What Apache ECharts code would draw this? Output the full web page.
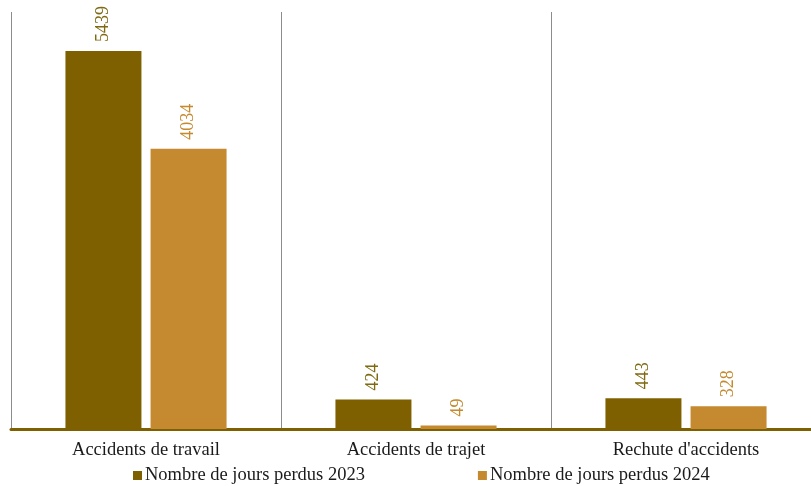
<!DOCTYPE html>
<html><head><meta charset="utf-8">
<script src="https://cdn.jsdelivr.net/npm/echarts@6/dist/echarts.min.js"></script>
<style>html,body{margin:0;padding:0;background:#fff;overflow:hidden;width:811px;height:486px}#c{width:821px;height:486px}</style>
</head><body><div id="c"></div>
<script>
const categories = ["Accidents de travail", "Accidents de trajet", "Rechute d'accidents"];
const seriesNames = ["Nombre de jours perdus 2023", "Nombre de jours perdus 2024"];
const values2023 = [5439, 424, 443];
const values2024 = [4034, 49, 328];

const FONT = "Liberation Serif";
const chart = echarts.init(document.getElementById('c'), null, {renderer: 'canvas'});
const mk = (name, data, color, labelColor) => ({
  name, type: 'bar', data, barWidth: 76, barGap: '12%',
  itemStyle: {color},
  label: {show: true, position: 'top', rotate: 90, align: 'left', verticalAlign: 'middle',
    distance: 9, color: labelColor, fontFamily: FONT, fontSize: 18}
});
chart.setOption({
  animation: false,
  grid: {left: 11, top: 12, right: 0, height: 417, containLabel: false},
  legend: {
    data: seriesNames, left: 128, top: 461, itemWidth: 9, itemHeight: 9, itemGap: 113,
    icon: 'rect',
    textStyle: {fontFamily: FONT, fontSize: 18.5, color: '#1a1a1a', padding: [0,0,0,-2]}
  },
  xAxis: {
    type: 'category', data: categories, boundaryGap: true,
    axisLine: {show: true, lineStyle: {color: '#7F6000', width: 3}},
    axisTick: {show: false},
    splitLine: {show: true, lineStyle: {color: '#8c8c8c', width: 1}},
    axisLabel: {fontFamily: FONT, fontSize: 18.5, color: '#1a1a1a', margin: 12}
  },
  yAxis: {type: 'value', min: 0, max: 6000, show: false, splitLine: {show: false}},
  series: [mk(seriesNames[0], values2023, '#7F6000', '#7F6A12'), mk(seriesNames[1], values2024, '#C5892F', '#C5892F')]
});
</script></body></html>
